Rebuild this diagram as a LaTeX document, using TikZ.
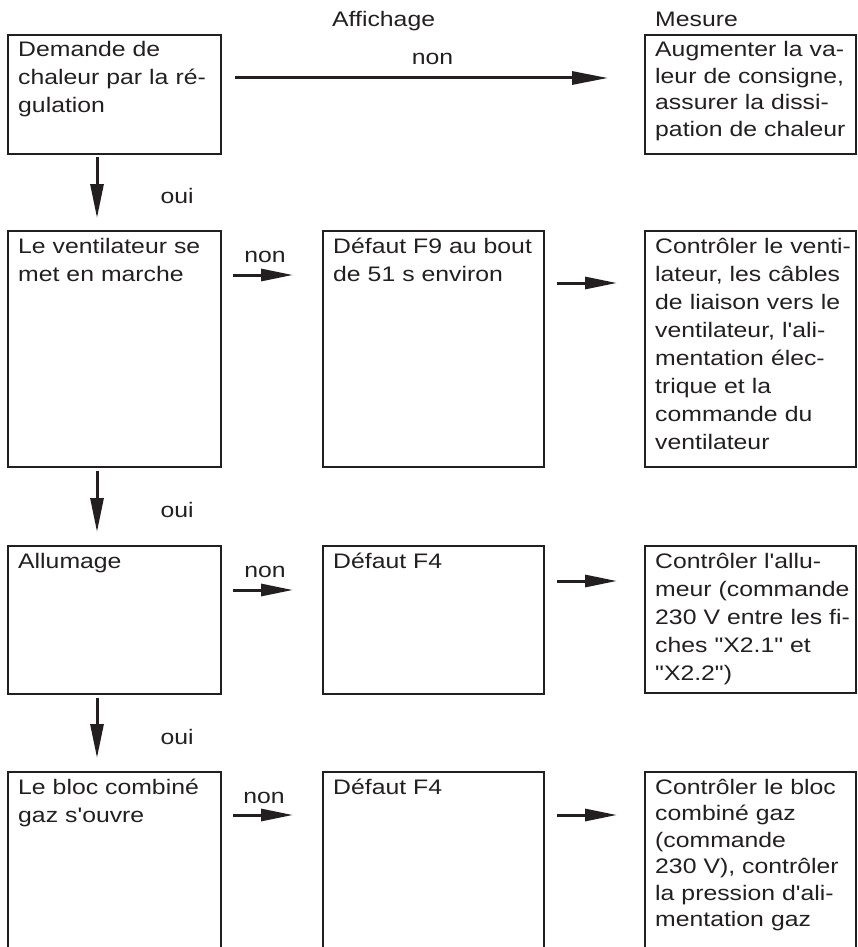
\documentclass[tikz,border=0pt]{standalone}
\usepackage{fontspec}
\newfontfamily\arialf[FakeStretch=1.18]{Liberation Sans}
\usetikzlibrary{arrows.meta,calc}
\definecolor{ink}{HTML}{231F20}
\begin{document}
\begin{tikzpicture}[x=1pt,y=-1pt,
  box/.style={draw=ink, line width=2.2pt, rectangle, anchor=north west, inner sep=0pt, outer sep=0pt},
  txt/.style={anchor=base west, inner sep=0pt, text width=260pt, align=left, text=ink, font=\arialf\fontsize{21}{28}\selectfont},
  tight/.style={font=\arialf\fontsize{21}{26.5}\selectfont},
  lbl/.style={inner sep=0pt, text=ink, font=\arialf\fontsize{21}{28}\selectfont},
  arr/.style={draw=ink, line width=3pt, -{Triangle[length=32pt,width=12pt]}},
]
\useasboundingbox (0,0) rectangle (857,947);
\clip (0,0) rectangle (857,947);

% headers
\node[lbl, anchor=base west] (hA) at (332,27) {Affichage};
\node[lbl, anchor=base west] (hM) at (655,27) {Mesure};

% boxes
\node[box, minimum width=213pt, minimum height=119pt] (L1) at (8,35) {};
\node[box, minimum width=211pt, minimum height=119pt] (R1) at (645,35) {};
\node[box, minimum width=213pt, minimum height=236pt] (L2) at (8,231) {};
\node[box, minimum width=221pt, minimum height=236pt] (M2) at (323,231) {};
\node[box, minimum width=211pt, minimum height=236pt] (R2) at (645,231) {};
\node[box, minimum width=213pt, minimum height=148pt] (L3) at (8,546) {};
\node[box, minimum width=221pt, minimum height=148pt] (M3) at (323,546) {};
\node[box, minimum width=211pt, minimum height=147pt] (R3) at (645,546) {};
\node[box, minimum width=213pt, minimum height=200pt] (L4) at (8,772) {};
\node[box, minimum width=221pt, minimum height=200pt] (M4) at (323,772) {};
\node[box, minimum width=211pt, minimum height=200pt] (R4) at (645,772) {};

% texts
\node[txt] (tL1) at ($(L1.north west)+(10,22)$) {Demande de\\chaleur par la ré-\\gulation};
\node[txt, tight] (tR1) at ($(R1.north west)+(10,22)$) {Augmenter la va-\\leur de consigne,\\assurer la dissi-\\pation de chaleur};
\node[txt] (tL2) at ($(L2.north west)+(10,22)$) {Le ventilateur se\\met en marche};
\node[txt] (tM2) at ($(M2.north west)+(10,22)$) {Défaut F9 au bout\\de 51 s environ};
\node[txt] (tR2) at ($(R2.north west)+(10,22)$) {Contrôler le venti-\\lateur, les câbles\\de liaison vers le\\ventilateur, l'ali-\\mentation élec-\\trique et la\\commande du\\ventilateur};
\node[txt] (tL3) at ($(L3.north west)+(10,22)$) {Allumage};
\node[txt] (tM3) at ($(M3.north west)+(10,22)$) {Défaut F4};
\node[txt] (tR3) at ($(R3.north west)+(10,22)$) {Contrôler l'allu-\\meur (commande\\230 V entre les fi-\\ches "X2.1" et\\"X2.2")};
\node[txt] (tL4) at ($(L4.north west)+(10,22)$) {Le bloc combiné\\gaz s'ouvre};
\node[txt] (tM4) at ($(M4.north west)+(10,22)$) {Défaut F4};
\node[txt, tight] (tR4) at ($(R4.north west)+(10,22)$) {Contrôler le bloc\\combiné gaz\\(commande\\230 V), contrôler\\la pression d'ali-\\mentation gaz};

% top arrow
\draw[arr, -{Triangle[length=36pt,width=13pt]}] ($(L1.north east)+(14,43)$) -- ($(R1.north west)+(-37,43)$)
  node[lbl, midway, anchor=base, xshift=11pt, yshift=13pt] (n1) {non};

% down arrows
\draw[arr, -{Triangle[length=34pt,width=13pt]}] ($(L1.south west)+(89,3)$) -- ($(L2.north west)+(89,-13)$)
  node[lbl, midway, anchor=base west, xshift=62pt, yshift=-16pt] (o1) {oui};
\draw[arr, -{Triangle[length=34pt,width=13pt]}] ($(L2.south west)+(89,4)$) -- ($(L3.north west)+(89,-14)$)
  node[lbl, midway, anchor=base west, xshift=62pt, yshift=-16pt] (o2) {oui};
\draw[arr, -{Triangle[length=34pt,width=13pt]}] ($(L3.south west)+(89,4)$) -- ($(L4.north west)+(89,-14)$)
  node[lbl, midway, anchor=base west, xshift=62pt, yshift=-16pt] (o3) {oui};

% left -> middle
\draw[arr] ($(L2.north east)+(12,44)$) -- ($(M2.north west)+(-30,44)$)
  node[lbl, midway, anchor=base, xshift=2pt, yshift=13pt] (n2) {non};
\draw[arr] ($(L3.north east)+(12,44)$) -- ($(M3.north west)+(-30,44)$)
  node[lbl, midway, anchor=base, xshift=2pt, yshift=13pt] (n3) {non};
\draw[arr] ($(L4.north east)+(12,43)$) -- ($(M4.north west)+(-30,43)$)
  node[lbl, midway, anchor=base, xshift=1pt, yshift=12pt] (n4) {non};

% middle -> right
\draw[arr] ($(M2.north east)+(13,52)$) -- ($(R2.north west)+(-28,52)$);
\draw[arr] ($(M3.north east)+(13,35)$) -- ($(R3.north west)+(-28,35)$);
\draw[arr] ($(M4.north east)+(13,43)$) -- ($(R4.north west)+(-28,43)$);
\end{tikzpicture}
\end{document}
